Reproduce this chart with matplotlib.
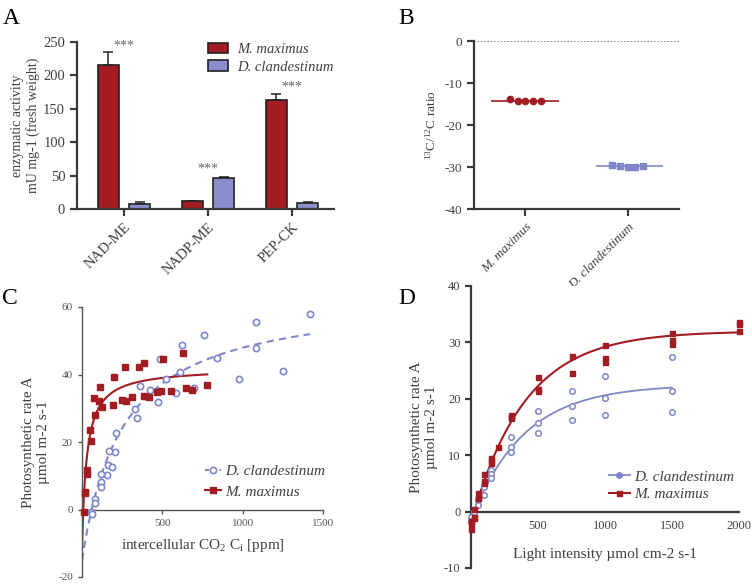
import numpy as np
import matplotlib
matplotlib.use('Agg')
import matplotlib.pyplot as plt
from matplotlib.patches import Patch
from matplotlib.lines import Line2D

plt.rcParams['font.family'] = ['Liberation Serif', 'DejaVu Serif']
plt.rcParams['mathtext.fontset'] = 'custom'
plt.rcParams['mathtext.rm'] = 'Liberation Serif'
plt.rcParams['mathtext.it'] = 'Liberation Serif:italic'
plt.rcParams['axes.unicode_minus'] = False

RED = '#a21c22'
BLUE = '#7f87c9'
BAR_BLUE = '#8a8ecc'
AXIS = '#3a3a3a'
TXT = '#404040'

# A: enzymatic activity
enzymes = ['NAD-ME', 'NADP-ME', 'PEP-CK']
act_max = [215, 12, 163]
act_max_err = [20, 0.5, 9]
act_cla = [7, 47, 9]
act_cla_err = [3, 1.5, 1]
stars_y = [239, 55, 178]
stars_x = [0, 1, 2]

# B: 13C/12C ratio
species = ['M. maximus', 'D. clandestinum']
ratio_max = [-13.9, -14.2, -14.4, -14.3, -14.2]
ratio_cla = [-29.5, -29.8, -30.1, -29.9, -29.7]

# C: A/Ci curves
ci_cla = [1417, 1086, 759, 625, 486, 1080, 842, 1248, 610, 521, 977, 358, 424, 470,
          585, 700, 331, 345, 213, 203, 166, 159, 188, 155, 120, 120, 118, 79, 83, 56, 62]
a_cla = [57.9, 55.7, 51.8, 48.6, 44.6, 47.8, 44.9, 40.9, 40.7, 38.7, 38.8, 36.7, 35.5, 31.8,
         34.4, 36.0, 29.8, 27.2, 22.7, 17.1, 17.3, 13.1, 12.5, 10.2, 10.6, 8.2, 6.6, 3.2, 1.8, -0.8, -1.2]
ci_max = [10, 19, 20, 31, 31, 52, 56, 81, 75, 108, 112, 125, 191, 198, 252, 266, 276, 312,
          352, 386, 389, 416, 467, 492, 505, 554, 626, 648, 683, 778]
a_max = [-0.8, 5.3, 5.0, 11.6, 10.6, 23.6, 20.3, 27.9, 32.9, 32.2, 36.2, 30.3, 30.9, 39.2,
         32.4, 42.1, 32.1, 33.4, 42.3, 43.3, 33.6, 33.3, 34.7, 35.0, 44.6, 35.0, 46.3, 36.0, 35.5, 37.0]
# hyperbolic fits: Amax, K, compensation point, x range
fit_c_max = (42.0, 38.0, 8.0, 0, 780)
fit_c_cla = (64.0, 315.0, 60.0, 0, 1420)

# D: light response curves
light_max = [0, 0, 0, 25, 25, 25, 50, 50, 50, 100, 100, 100, 150, 150, 150, 200, 300, 300, 300,
             500, 500, 500, 750, 750, 1000, 1000, 1000, 1500, 1500, 1500, 2000, 2000, 2000]
ld_max = [-1.6, -2.2, -3.1, 0.5, -0.9, -1.2, 3.3, 2.5, 2.4, 6.6, 5.5, 5.1, 9.5, 9.0, 8.7, 11.5,
          17.2, 16.8, 16.6, 23.9, 21.8, 21.4, 27.6, 24.5, 29.5, 27.3, 26.6, 31.7, 30.4, 29.8,
          33.6, 33.2, 32.1]
light_cla = [0, 0, 0, 25, 25, 50, 50, 100, 100, 100, 150, 150, 150, 300, 300, 300,
             500, 500, 500, 750, 750, 750, 1000, 1000, 1000, 1500, 1500, 1500]
ld_cla = [-1.0, -1.6, -1.9, -0.1, 0.0, 2.1, 1.2, 4.6, 4.3, 3.0, 7.3, 6.6, 5.9, 13.2, 11.5, 10.5,
          17.9, 15.7, 14.0, 21.4, 18.7, 16.2, 24.0, 20.1, 17.2, 27.5, 21.3, 17.7]
# exponential rise fits: plateau, amplitude, rate, x end
fit_d_max = (32.0, 34.0, 0.0025, 2000)
fit_d_cla = (22.5, 24.0, 0.00255, 1500)


def hyper(p):
    amax, k, c, x0, x1 = p
    x = np.linspace(x0, x1, 400)
    return x, amax * (x - c) / (k + x - c)


def expo(p):
    a, b, k, x1 = p
    x = np.linspace(0, x1, 400)
    return x, a - b * np.exp(-k * x)


def px_axes(fig, left, right, top, bottom):
    W, H = 752.0, 586.0
    return fig.add_axes([left / W, (H - bottom) / H, (right - left) / W, (bottom - top) / H])


def style_spines(ax, lw, color):
    for s in ['top', 'right']:
        ax.spines[s].set_visible(False)
    for s in ['left', 'bottom']:
        ax.spines[s].set_linewidth(lw)
        ax.spines[s].set_color(color)
    ax.tick_params(colors=color, labelcolor=TXT, width=lw)


fig = plt.figure(figsize=(7.52, 5.86), dpi=100)

# ---------- A ----------
ax = px_axes(fig, 77, 334, 42, 209)
style_spines(ax, 1.6, AXIS)
x = np.arange(len(enzymes))
ax.bar(x - 0.185, act_max, 0.25, color=RED, edgecolor='#222222', linewidth=1.2, zorder=2)
ax.bar(x + 0.185, act_cla, 0.25, color=BAR_BLUE, edgecolor='#222222', linewidth=1.2, zorder=2)
ax.errorbar(x - 0.185, act_max, yerr=[np.zeros(3), act_max_err], fmt='none',
            ecolor='#333333', elinewidth=1.2, capsize=3.5, capthick=1.2, zorder=1)
ax.errorbar(x + 0.185, act_cla, yerr=[np.zeros(3), act_cla_err], fmt='none',
            ecolor='#333333', elinewidth=1.2, capsize=3.5, capthick=1.2, zorder=1)
for sx, sy in zip(stars_x, stars_y):
    ax.text(sx, sy, '***', ha='center', va='baseline', fontsize=10, color='#666666')
ax.set_xlim(-0.56, 2.5)
ax.set_ylim(0, 250)
ax.set_yticks([0, 50, 100, 150, 200, 250])
ax.set_xticks(x)
ax.set_xticklabels(enzymes, rotation=45, ha='right', va='top', rotation_mode='anchor')
ax.tick_params(labelsize=10.5, length=5)
ax.set_ylabel('enzymatic activity\nmU mg-1 (fresh weight)', fontsize=10, color=TXT, labelpad=2)
handles = [Patch(facecolor=RED, edgecolor='#222222', linewidth=1.2),
           Patch(facecolor=BAR_BLUE, edgecolor='#222222', linewidth=1.2)]
leg = ax.legend(handles, ['M. maximus', 'D. clandestinum'], loc='upper left',
                bbox_to_anchor=(0.48, 1.04), frameon=False, fontsize=10.5, borderpad=0,
                handlelength=1.4, handleheight=0.75, handletextpad=0.6, labelspacing=0.3)
for t in leg.get_texts():
    t.set_style('italic')
    t.set_color(TXT)

# ---------- B ----------
ax = px_axes(fig, 474, 679, 41, 209)
style_spines(ax, 1.6, AXIS)
offs = (np.arange(5) - 2) * 0.075
ax.plot(0 + offs, ratio_max, 'o', color=RED, ms=4.5, zorder=3)
ax.plot(1 + offs, ratio_cla, 's', color=BLUE, ms=4.5, zorder=3)
ax.hlines(np.mean(ratio_max), -0.33, 0.33, color=RED, lw=1.2)
ax.hlines(np.mean(ratio_cla), 0.69, 1.34, color=BLUE, lw=1.2)
ax.axhline(0, color='#777777', lw=1.2, ls=(0, (1, 1)))
ax.set_xlim(-0.5, 1.5)
ax.set_ylim(-40, 0)
ax.set_yticks([-40, -30, -20, -10, 0])
ax.set_xticks([0, 1])
ax.set_xticklabels(species, rotation=45, ha='right', va='top', rotation_mode='anchor',
                   style='italic')
ax.tick_params(labelsize=9.5, length=5)
ax.set_ylabel('$^{13}$C/$^{12}$C ratio', fontsize=9.5, color=TXT, labelpad=4)

# ---------- C ----------
ax = px_axes(fig, 82, 323, 307, 577)
style_spines(ax, 1.0, '#555555')
ax.spines['bottom'].set_position(('data', 0))
xc, yc = hyper(fit_c_cla)
ax.plot(xc, yc, color=BLUE, lw=1.5, ls=(0, (3.5, 2.5)))
xc, yc = hyper(fit_c_max)
ax.plot(xc, yc, color=RED, lw=1.5)
ax.plot(ci_cla, a_cla, 'o', mfc='white', mec=BLUE, mew=1.2, ms=4.5, clip_on=False, zorder=3)
ax.plot(ci_max, a_max, 's', color=RED, ms=4.3, clip_on=False, zorder=3)
ax.set_xlim(0, 1500)
ax.set_ylim(-20, 60)
ax.set_xticks([500, 1000, 1500])
ax.set_yticks([-20, 0, 20, 40, 60])
ax.tick_params(labelsize=8, length=3, colors='#555555', labelcolor='#555555')
ax.set_xlabel('intercellular CO$_2$ C$_\\mathrm{i}$ [ppm]', fontsize=11, color=TXT)
ax.xaxis.set_label_coords(0.5, 0.15)
ax.set_ylabel('Photosynthetic rate A\nµmol m-2 s-1', fontsize=11, color=TXT, labelpad=6)
handles = [Line2D([], [], color=BLUE, lw=1.5, ls=(0, (2, 1.5)), marker='o', mfc='white',
                  mec=BLUE, mew=1.2, ms=4.5),
           Line2D([], [], color=RED, lw=1.5, marker='s', ms=4.3)]
leg = ax.legend(handles, ['D. clandestinum', 'M. maximus'], loc='upper left',
                bbox_to_anchor=(0.48, 0.445), frameon=False, fontsize=11, borderpad=0,
                handlelength=1.0, handletextpad=0.3, labelspacing=0.45)
for t in leg.get_texts():
    t.set_style('italic')
    t.set_color(TXT)

# ---------- D ----------
ax = px_axes(fig, 471, 739, 286, 568)
style_spines(ax, 1.6, AXIS)
ax.spines['bottom'].set_position(('data', 0))
xd, yd = expo(fit_d_cla)
ax.plot(xd, yd, color=BLUE, lw=1.3)
xd, yd = expo(fit_d_max)
ax.plot(xd, yd, color=RED, lw=1.5)
ax.plot(light_cla, ld_cla, 'o', mfc='white', mec=BLUE, mew=1.1, ms=4, clip_on=False, zorder=3)
ax.plot(light_max, ld_max, 's', color=RED, ms=3.6, clip_on=False, zorder=3)
ax.set_xlim(0, 2000)
ax.set_ylim(-10, 40)
ax.set_xticks([500, 1000, 1500, 2000])
ax.set_yticks([-10, 0, 10, 20, 30, 40])
ax.tick_params(labelsize=9, length=4)
ax.tick_params(axis='x', length=0, pad=6)
ax.set_xlabel('Light intensity µmol cm-2 s-1', fontsize=11, color=TXT)
ax.xaxis.set_label_coords(0.5, 0.07)
ax.set_ylabel('Photosynthetic rate A\nµmol m-2 s-1', fontsize=11, color=TXT, labelpad=4)
handles = [Line2D([], [], color=BLUE, lw=1.3, marker='o', ms=4),
           Line2D([], [], color=RED, lw=1.5, marker='s', ms=3.6)]
leg = ax.legend(handles, ['D. clandestinum', 'M. maximus'], loc='upper left',
                bbox_to_anchor=(0.485, 0.375), frameon=False, fontsize=11, borderpad=0,
                handlelength=1.4, handletextpad=0.3, labelspacing=0.25)
for t in leg.get_texts():
    t.set_style('italic')
    t.set_color(TXT)

# panel letters
for lab, px, py in [('A', 3, 8), ('B', 398, 8), ('C', 2, 288), ('D', 398, 288)]:
    fig.text(px / 752, 1 - py / 586, lab, fontsize=17, ha='left', va='top', color='black')

fig.savefig('out.png', dpi=100)
